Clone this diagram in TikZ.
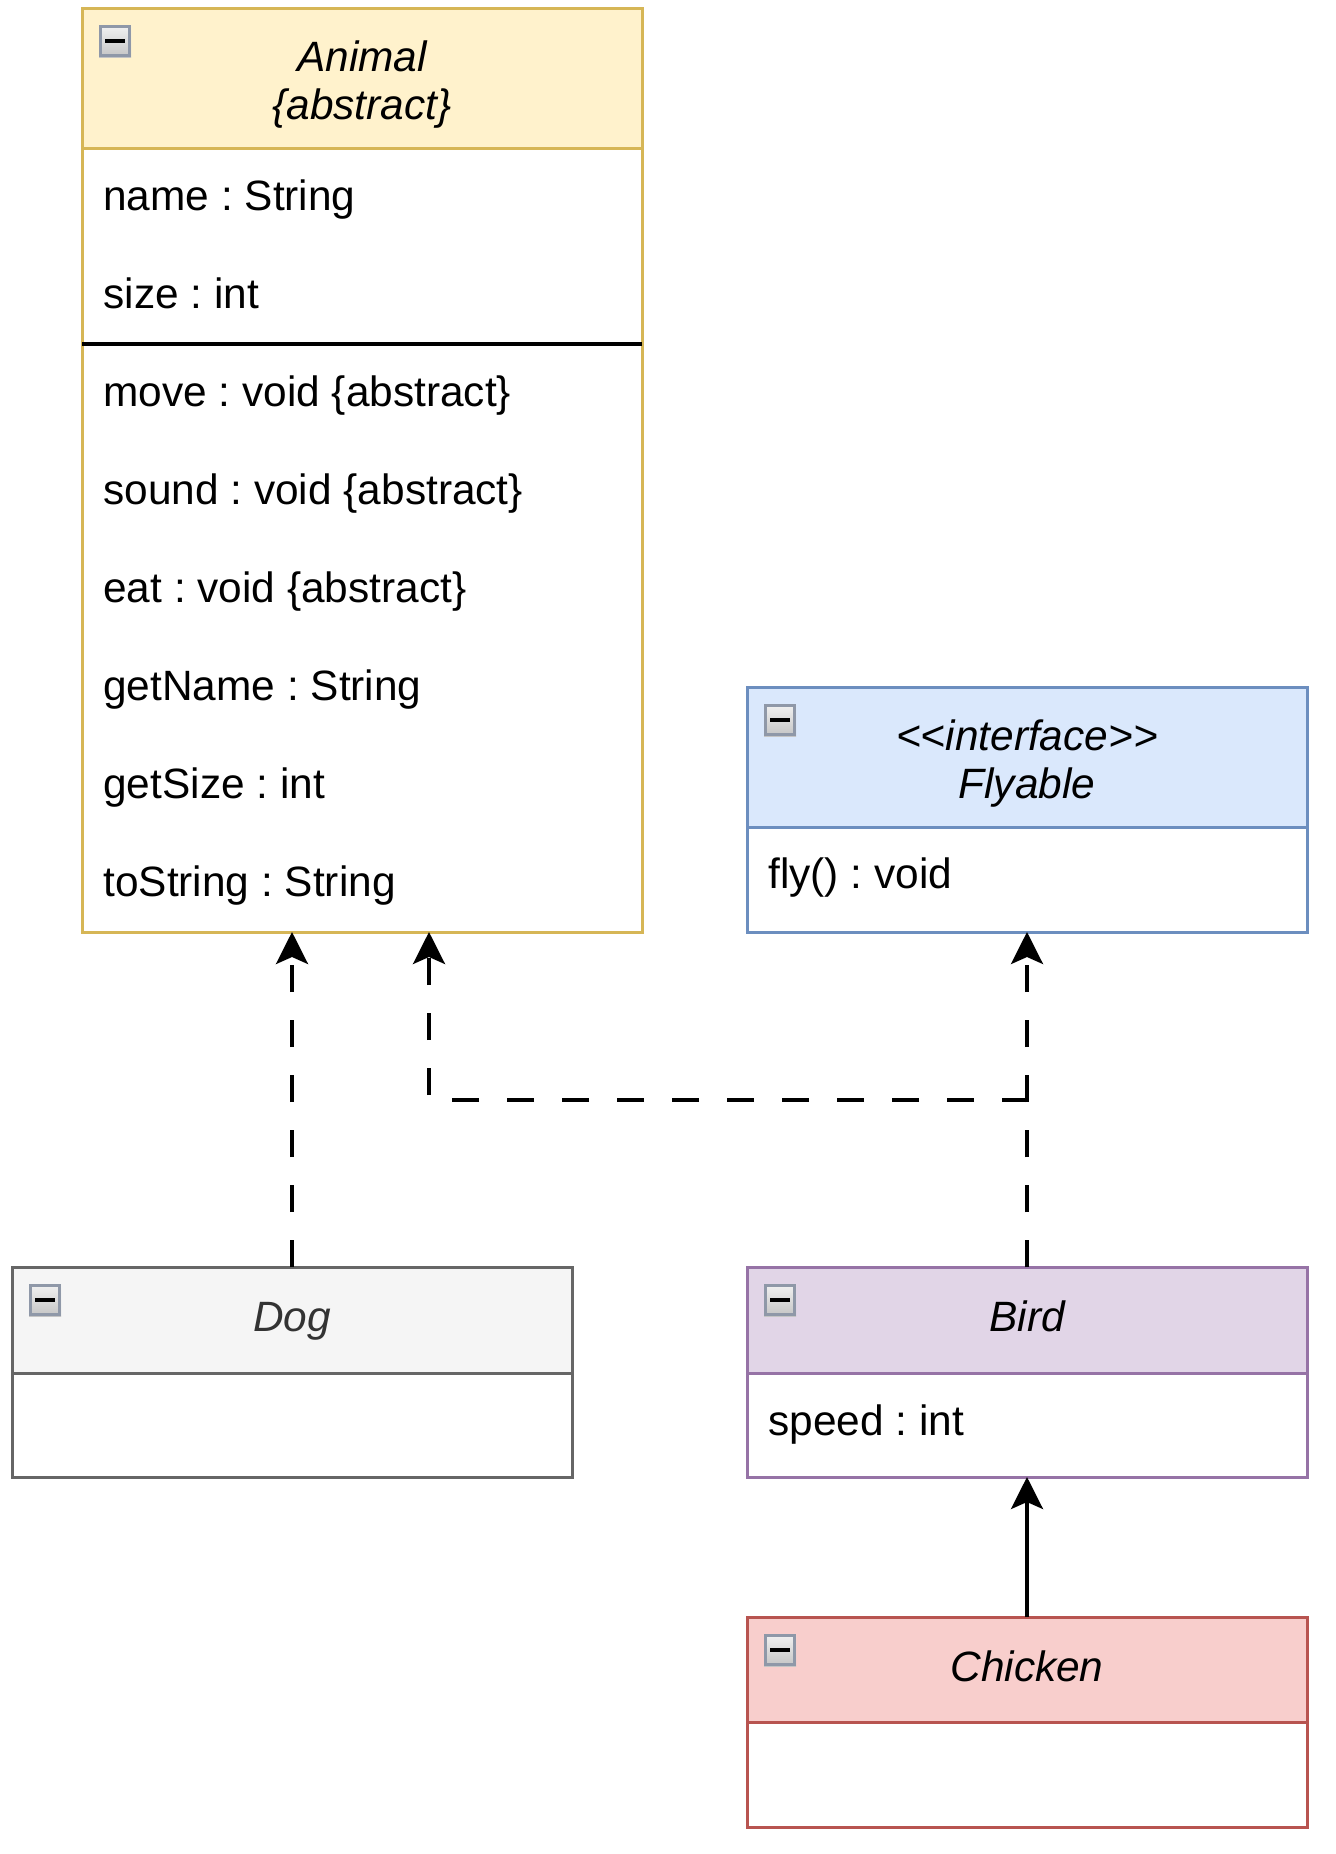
\documentclass[tikz,border=0pt]{standalone}
\usepackage{fontspec}
\setmainfont{Liberation Sans}[Ligatures=TeXOff]
\usetikzlibrary{arrows.meta,calc}
\definecolor{animalF}{HTML}{FFF2CC}\definecolor{animalS}{HTML}{D6B656}
\definecolor{flyF}{HTML}{DAE8FC}\definecolor{flyS}{HTML}{6C8EBF}
\definecolor{dogF}{HTML}{F5F5F5}\definecolor{dogS}{HTML}{666666}\definecolor{dogT}{HTML}{333333}
\definecolor{birdF}{HTML}{E1D5E7}\definecolor{birdS}{HTML}{9673A6}
\definecolor{chickF}{HTML}{F8CECC}\definecolor{chickS}{HTML}{B85450}
\definecolor{iconS}{HTML}{8F98A8}
\definecolor{iconT}{HTML}{F2F2F2}\definecolor{iconB}{HTML}{C4C4C4}
\newcommand\minusicon[2]{%
  \shade[top color=iconT, bottom color=iconB] (#1,#2) rectangle ++(32,32);
  \draw[draw=iconS, line width=1.6pt] (#1+1.6,#2+1.6) rectangle ++(28.8,28.8);
  \draw[line width=2.2pt] (#1+6,#2+16) -- ++(20,0);
}
\begin{document}
\frenchspacing
\begin{tikzpicture}[x=0.5pt,y=-0.5pt,
  box/.style={draw, line width=1.5pt, minimum width=280pt, anchor=north west, inner sep=0pt, outer sep=0pt},
  ttl/.style={anchor=base, inner sep=0pt, font=\fontsize{21.2}{24}\selectfont\itshape},
  attr/.style={anchor=base west, inner sep=0pt, font=\fontsize{21.2}{24}\selectfont},
  dep/.style={line width=1.8pt, dash pattern=on 13.5pt off 14pt, -{Stealth[length=16pt,width=16pt,inset=3.5pt]}},
  inh/.style={line width=1.8pt, -{Stealth[length=16pt,width=16pt,inset=3.5pt]}}]
\useasboundingbox (0,0) rectangle (1336,1854);
% Animal
\node[box, fill=animalF, draw=animalS, minimum height=70pt] (animalH) at (82,8) {};
\node[box, fill=white, draw=animalS, minimum height=392pt] (animalB) at (82,148) {};
\draw[line width=1.6pt] (82,344) -- (642,344);
\minusicon{99}{25}
\node[ttl] (animalT1) at (362,71) {Animal};
\node[ttl] (animalT2) at (362,119) {\{abstract\}};
\node[attr] (a1) at (103,210) {name : String};
\node[attr] (a2) at (103,308) {size : int};
\node[attr] (a3) at (103,406) {move : void \{abstract\}};
\node[attr] (a4) at (103,504) {sound : void \{abstract\}};
\node[attr] (a5) at (103,602) {eat : void \{abstract\}};
\node[attr] (a6) at (103,700) {getName : String};
\node[attr] (a7) at (103,798) {getSize : int};
\node[attr] (a8) at (103,896) {toString : String};
% Flyable
\node[box, fill=flyF, draw=flyS, minimum height=70pt] (flyH) at (747,687) {};
\node[box, fill=white, draw=flyS, minimum height=52.5pt] (flyB) at (747,827) {};
\minusicon{764}{704}
\node[ttl] (flyT1) at (1027,750) {<<interface>>};
\node[ttl] (flyT2) at (1027,798) {Flyable};
\node[attr] (f1) at (768,888) {fly() : void};
% Dog
\node[box, fill=dogF, draw=dogS, minimum height=53pt] (dogH) at (12,1267) {};
\node[box, fill=white, draw=dogS, minimum height=52pt] (dogB) at (12,1373) {};
\minusicon{29}{1284}
\node[ttl, text=dogT] (dogT) at (292,1331) {Dog};
% Bird
\node[box, fill=birdF, draw=birdS, minimum height=53pt] (birdH) at (747,1267) {};
\node[box, fill=white, draw=birdS, minimum height=52pt] (birdB) at (747,1373) {};
\minusicon{764}{1284}
\node[ttl] (birdT) at (1027,1331) {Bird};
\node[attr] (b1) at (768,1435) {speed : int};
% Chicken
\node[box, fill=chickF, draw=chickS, minimum height=52.5pt] (chickH) at (747,1617) {};
\node[box, fill=white, draw=chickS, minimum height=52.5pt] (chickB) at (747,1722) {};
\minusicon{764}{1634}
\node[ttl] (chickT) at (1027,1681) {Chicken};
% connectors
\coordinate (busY) at (0,1100);
\coordinate (animalIn) at (429,932);
\draw[dep] (dogH.north) -- (dogH.north |- animalB.south);
\draw[dep] (birdH.north) -- (birdH.north |- busY) -| (animalIn);
\draw[dep] (birdH.north) -- (flyB.south);
\draw[inh] (chickH.north) -- (birdB.south);
\end{tikzpicture}
\end{document}
